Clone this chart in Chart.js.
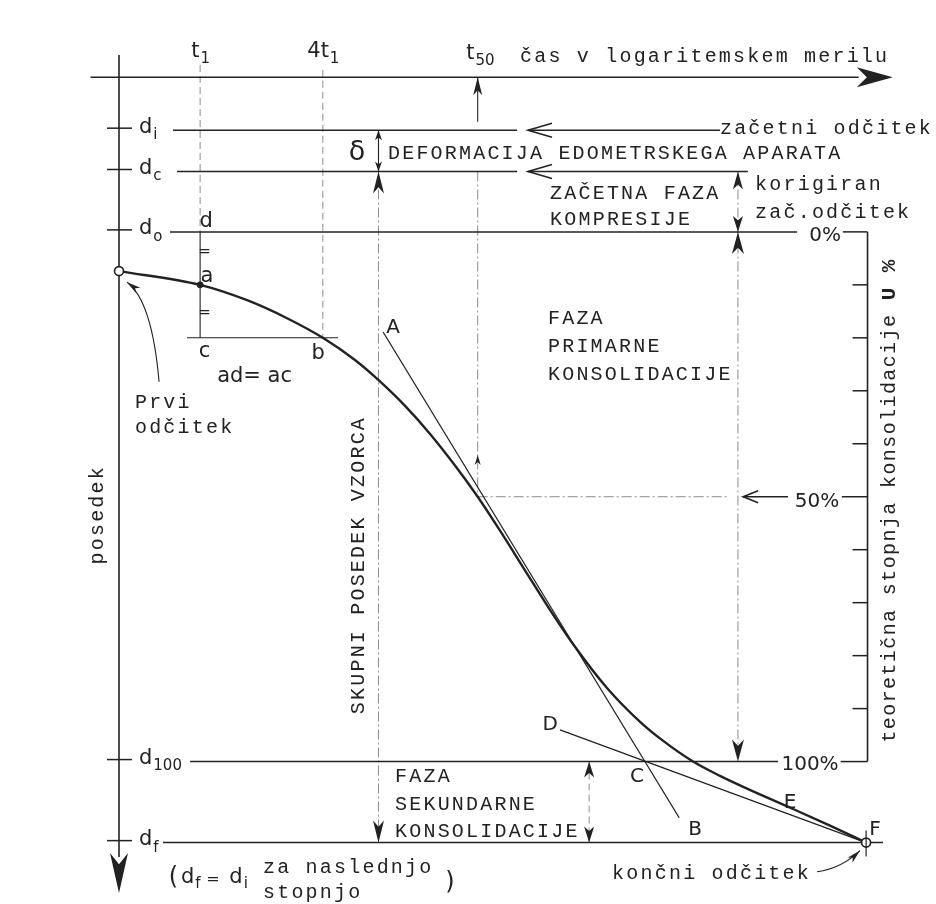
<!DOCTYPE html>
<html>
<head>
<meta charset="utf-8">
<script src="https://cdn.jsdelivr.net/npm/chart.js@4/dist/chart.umd.min.js"></script>
<style>
  html, body { margin: 0; padding: 0; background: #ffffff; }
  #wrap { width: 936px; height: 904px; position: relative; }
</style>
</head>
<body>
<div id="wrap"><canvas id="c"></canvas></div>
<script>
// ---- Time (log scale, multiples of t1) ----
const T0 = 0.4;          // first reading
const T1 = 1;
const T4 = 4;
const T50 = 23;
const TF = 1850;         // final reading
const T_SCALE = 1880;    // U % scale on the right
const T_TOTAL = 7.5;     // total settlement dimension line
const T_CORR = 435;      // corrected initial reading / primary consolidation dimension
const T_SEC = 81;        // secondary consolidation dimension

// ---- Settlement levels, in % of primary consolidation ----
const D_I = -19.2, D_C = -11.4, D_0 = 0, D_100 = 100, D_F = 115.3;
const TIME_AXIS_U = -29.2;
const levelValues = [D_I, D_C, D_0, D_100, D_F];
const levelSubs = ['i', 'c', 'o', '100', 'f'];

// ---- Measured settlement–log time curve ----
const curveTime = [0.4, 1, 1.7, 2.67, 4, 5.75, 7.46, 10.1, 13.4, 17.8, 23, 29.6, 40.6, 49.2,
                   67.5, 99.1, 144, 187, 262, 355, 482, 784, 1231, 1850];
const curveSettlement = [7.4, 10, 12.9, 16.3, 20, 24.2, 27.9, 32.8, 38.1, 44.1, 50, 56.4, 64.8, 69.9,
                         77.8, 86.1, 92.5, 96.1, 100.0, 102.7, 105.1, 108.7, 112.1, 115.3];

// ---- Construction lines ----
const tangentAB = [[7.9, 18.9], [224, 110.6]];
const tangentDF = [[58.3, 94.0], [1850, 115.3]];
const pointA = [1, 10];            // a at t1
const pointFirst = [0.4, 7.4];
const pointFinal = [1850, 115.3];
const uTicks = [10, 20, 30, 40, 60, 70, 80, 90];

// curved leader arrows (start, control, end)
const firstReadingArrow = [[0.629, 28.3], [0.581, 13.0], [0.438, 9.5]];
const finalReadingArrow = [[1063, 120.8], [1409, 120.1], [1728, 116.8]];

// ---- Texts ----
const captions = [
  ['čas v logaritemskem merilu', 37.1, -33.0],
  ['začetni odčitek', 355, -19.4],
  ['DEFORMACIJA EDOMETRSKEGA APARATA', 8.35, -14.7],
  ['ZAČETNA FAZA', 52.1, -7.3],
  ['KOMPRESIJE', 52.1, -2.3],
  ['korigiran', 528, -8.9],
  ['zač.odčitek', 528, -3.6],
  ['FAZA', 50.9, 16.4],
  ['PRIMARNE', 50.9, 21.7],
  ['KONSOLIDACIJE', 50.9, 27.0],
  ['Prvi', 0.479, 32.3],
  ['odčitek', 0.479, 37.0],
  ['FAZA', 9.04, 102.9],
  ['SEKUNDARNE', 9.04, 108.2],
  ['KONSOLIDACIJE', 9.04, 113.3],
  ['za naslednjo', 2.035, 120.1],
  ['stopnjo', 2.035, 124.8],
  ['končni odčitek', 105, 121.1]
];
const verticalCaptions = [
  ['posedek', 0.3155, 53.4],
  ['SKUPNI POSEDEK VZORCA', 6.02, 62.9]
];
const scaleTitle = ['teoretična stopnja konsolidacije ', 'U %', 2424, 50.7];

// [main, subscript, t, U]
const subLabels = [
  ['t', '1', 1, -34.0],
  ['4t', '1', 4, -34.0],
  ['t', '50', 23.6, -33.6],
  ['d', 'f', 0.894, 121.9],
  ['d', 'i', 1.535, 121.9]
];
// [text, t, U, size]
const letters = [
  ['A', 8.84, 18.1, 20], ['B', 268, 112.9, 20], ['C', 139, 102.9, 20],
  ['D', 52.1, 93.1, 20], ['E', 784, 107.8, 20], ['F', 2047, 112.9, 20],
  ['d', 1.07, -1.9, 21], ['=', 1.05, 3.8, 15], ['a', 1.08, 8.4, 21],
  ['=', 1.05, 15.3, 15], ['c', 1.05, 22.6, 21], ['b', 3.79, 22.9, 21],
  ['ad= ac', 1.85, 27.4, 21],
  ['0%', 1164, 0.8, 20], ['50%', 1063, 51.0, 20], ['100%', 982, 100.7, 20],
  ['δ', 5.89, -14.9, 27],
  ['(', 0.740, 121.9, 24], ['=', 1.157, 122.3, 16], [')', 16.8, 122.9, 24]
];

const INK = '#222222';
const FAINT = '#8c8c8c';

function seg(points, style) {
  return Object.assign({
    data: points.map(([x, y]) => ({ x, y })),
    showLine: true, pointRadius: 0, borderColor: INK, borderWidth: 1.5,
    fill: false, clip: false
  }, style || {});
}
const THIN = { borderWidth: 1.1 };
const DASH = { borderColor: FAINT, borderWidth: 1, borderDash: [7, 4] };
const DASHDOT = { borderColor: FAINT, borderWidth: 1, borderDash: [10, 3, 2, 3] };

const datasets = [
  // reading points
  { data: [{ x: pointFirst[0], y: pointFirst[1] }, { x: pointFinal[0], y: pointFinal[1] }],
    showLine: false, pointRadius: 4.5, pointBackgroundColor: '#ffffff', pointBorderColor: INK,
    pointBorderWidth: 1.6, clip: false },
  { data: [{ x: pointA[0], y: pointA[1] }], showLine: false, pointRadius: 3,
    pointBackgroundColor: INK, pointBorderColor: INK, clip: false },
  // consolidation curve
  { data: curveTime.map((t, i) => ({ x: t, y: curveSettlement[i] })), showLine: true,
    pointRadius: 0, borderColor: INK, borderWidth: 2.4, cubicInterpolationMode: 'monotone', clip: false },
  // tangents
  seg(tangentAB, { borderWidth: 1.3 }),
  seg(tangentDF, { borderWidth: 1.3 }),
  // axes
  seg([[T0, -33.4], [T0, 118]], { borderWidth: 1.6 }),
  seg([[0.29, TIME_AXIS_U], [1700, TIME_AXIS_U]], { borderWidth: 1.6 }),
  // level lines
  seg([[0.736, D_I], [35.9, D_I]]),
  seg([[40.6, D_I], [355, D_I]]),
  seg([[0.77, D_C], [35.9, D_C]]),
  seg([[40.6, D_C], [487, D_C]]),
  seg([[0.712, D_0], [849, D_0]]),
  seg([[1423, D_0], [T_SCALE, D_0]]),
  seg([[0.893, D_100], [684, D_100]]),
  seg([[1387, D_100], [T_SCALE, D_100]]),
  seg([[0.658, D_F], [2239, D_F]]),
  // 50 % level
  seg([[T50, 50], [390, 50]], DASHDOT),
  seg([[461, 50], [766, 50]]),
  seg([[1407, 50], [T_SCALE, 50]]),
  // U % scale
  seg([[T_SCALE, D_0], [T_SCALE, D_100]], { borderWidth: 1.6 }),
  // t1 / 4t1 construction
  seg([[T1, -31.5], [T1, D_0]], DASH),
  seg([[T1, D_0], [T1, 20]], THIN),
  seg([[0.862, 20], [4.75, 20]], THIN),
  seg([[T4, -30.6], [T4, 20]], DASH),
  // t50
  seg([[T50, -20.8], [T50, TIME_AXIS_U]], THIN),
  seg([[T50, D_C], [T50, 50]], DASHDOT),
  // dimension lines
  seg([[T_TOTAL, D_I], [T_TOTAL, D_C]], THIN),
  seg([[T_TOTAL, D_C], [T_TOTAL, D_F]], DASHDOT),
  seg([[T_CORR, D_C], [T_CORR, D_100]], DASHDOT),
  seg([[T_SEC, D_100], [T_SEC, D_F]], DASH)
];

function head(ctx, tx, ty, ux, uy, len, half) {
  const n = Math.hypot(ux, uy); ux /= n; uy /= n;
  const bx = tx - ux * len, by = ty - uy * len;
  const mx = tx - ux * len * 0.72, my = ty - uy * len * 0.72;
  const nx = -uy * half, ny = ux * half;
  ctx.beginPath();
  ctx.moveTo(tx, ty);
  ctx.lineTo(bx + nx, by + ny);
  ctx.lineTo(mx, my);
  ctx.lineTo(bx - nx, by - ny);
  ctx.closePath();
  ctx.fill();
}
function chevron(ctx, tx, ty, ux, uy, len, half) {
  const n = Math.hypot(ux, uy); ux /= n; uy /= n;
  const bx = tx - ux * len, by = ty - uy * len;
  const nx = -uy * half, ny = ux * half;
  ctx.beginPath();
  ctx.moveTo(bx + nx, by + ny);
  ctx.lineTo(tx, ty);
  ctx.lineTo(bx - nx, by - ny);
  ctx.stroke();
}

const MONO = '"Liberation Mono", "DejaVu Sans Mono", monospace';
const SANS = '"DejaVu Sans", "Liberation Sans", sans-serif';

const annotate = {
  id: 'annotate',
  afterDatasetsDraw(chart) {
    const ctx = chart.ctx;
    const X = v => chart.scales.x.getPixelForValue(v);
    const Y = v => chart.scales.y.getPixelForValue(v);
    ctx.save();
    ctx.fillStyle = INK;
    ctx.strokeStyle = INK;
    ctx.lineWidth = 1.5;

    // ticks on the settlement axis
    const ax = X(T0);
    levelValues.forEach(u => {
      ctx.beginPath(); ctx.moveTo(ax - 12, Y(u) - 2); ctx.lineTo(ax + 13, Y(u) - 2); ctx.stroke();
    });
    // ticks on the U % scale
    const sx = X(T_SCALE);
    uTicks.forEach(u => {
      ctx.beginPath(); ctx.moveTo(sx - 15, Y(u)); ctx.lineTo(sx, Y(u)); ctx.stroke();
    });
    // short mark through the final reading
    ctx.lineWidth = 1.2;
    ctx.beginPath(); ctx.moveTo(X(TF), Y(D_F) - 12); ctx.lineTo(X(TF), Y(D_F) + 14); ctx.stroke();

    // axis arrowheads
    head(ctx, X(2500), Y(TIME_AXIS_U), 1, 0, 36, 10);
    head(ctx, ax, Y(124.8), 0, 1, 40, 9);
    // t50 marker
    head(ctx, X(T50), Y(TIME_AXIS_U), 0, -1, 18, 4.5);
    head(ctx, X(T50), Y(42.1), 0, -1, 10, 3);
    // δ
    head(ctx, X(T_TOTAL), Y(D_I), 0, -1, 10, 3.5);
    head(ctx, X(T_TOTAL), Y(D_C), 0, 1, 10, 3.5);
    // total settlement
    head(ctx, X(T_TOTAL), Y(D_C), 0, -1, 22, 5.5);
    head(ctx, X(T_TOTAL), Y(D_F), 0, 1, 22, 5.5);
    // corrected initial reading
    head(ctx, X(T_CORR), Y(D_C), 0, -1, 18, 5);
    head(ctx, X(T_CORR), Y(D_0), 0, 1, 16, 5);
    // primary consolidation span
    head(ctx, X(T_CORR), Y(D_0), 0, -1, 22, 6);
    head(ctx, X(T_CORR), Y(D_100), 0, 1, 22, 6);
    // secondary consolidation span
    head(ctx, X(T_SEC), Y(D_100), 0, -1, 16, 5);
    head(ctx, X(T_SEC), Y(D_F), 0, 1, 16, 5);
    // open arrows pointing at the level lines
    ctx.lineWidth = 1.6;
    chevron(ctx, X(40.6), Y(D_I), -1, 0, 24, 7);
    chevron(ctx, X(40.6), Y(D_C), -1, 0, 24, 7);
    chevron(ctx, X(461), Y(50), -1, 0, 15, 6);

    // curved leaders
    ctx.lineWidth = 1.1;
    [firstReadingArrow, finalReadingArrow].forEach(([s, c, e]) => {
      const p0 = [X(s[0]), Y(s[1])], p1 = [X(c[0]), Y(c[1])], p2 = [X(e[0]), Y(e[1])];
      ctx.beginPath(); ctx.moveTo(p0[0], p0[1]);
      ctx.quadraticCurveTo(p1[0], p1[1], p2[0], p2[1]); ctx.stroke();
      head(ctx, p2[0], p2[1], p2[0] - p1[0], p2[1] - p1[1], 14, 3.5);
    });

    // typewriter captions
    ctx.font = '20px ' + MONO;
    ctx.letterSpacing = '2.2px';
    ctx.textBaseline = 'middle';
    ctx.textAlign = 'left';
    captions.forEach(([s, t, u]) => ctx.fillText(s, X(t), Y(u)));
    ctx.textAlign = 'center';
    verticalCaptions.forEach(([s, t, u]) => {
      ctx.save(); ctx.translate(X(t), Y(u)); ctx.rotate(-Math.PI / 2);
      ctx.fillText(s, 0, 0); ctx.restore();
    });
    // U % scale title
    {
      const [a, b, t, u] = scaleTitle;
      ctx.save(); ctx.translate(X(t), Y(u)); ctx.rotate(-Math.PI / 2);
      ctx.letterSpacing = '1.4px';
      ctx.font = '20px ' + MONO;
      const wa = ctx.measureText(a).width;
      ctx.font = 'bold 21px ' + MONO;
      const wb = ctx.measureText(b).width;
      const x0 = -(wa + wb) / 2;
      ctx.textAlign = 'left';
      ctx.font = '20px ' + MONO;
      ctx.fillText(a, x0, 0);
      ctx.font = 'bold 21px ' + MONO;
      ctx.fillText(b, x0 + wa, 0);
      ctx.restore();
    }
    ctx.letterSpacing = '0px';

    // level names d_i ... d_f
    ctx.textAlign = 'left';
    levelValues.forEach((u, i) => {
      const x = ax + 20, y = Y(u) - 3;
      ctx.font = '21px ' + SANS;
      ctx.fillText('d', x, y);
      const w = ctx.measureText('d').width;
      ctx.font = '15px ' + SANS;
      ctx.fillText(levelSubs[i], x + w + 1, y + 8);
    });
    // subscripted labels
    subLabels.forEach(([m, s, t, u]) => {
      ctx.font = '21px ' + SANS;
      const wm = ctx.measureText(m).width;
      ctx.font = '15px ' + SANS;
      const ws = ctx.measureText(s).width;
      const x0 = X(t) - (wm + ws) / 2, y = Y(u);
      ctx.font = '21px ' + SANS;
      ctx.fillText(m, x0, y);
      ctx.font = '15px ' + SANS;
      ctx.fillText(s, x0 + wm + 1, y + 7);
    });
    // letters and percentages
    ctx.textAlign = 'center';
    letters.forEach(([s, t, u, size]) => {
      ctx.font = size + 'px ' + SANS;
      ctx.fillText(s, X(t), Y(u));
    });
    ctx.restore();
  }
};

new Chart(document.getElementById('c'), {
  type: 'scatter',
  data: { datasets },
  options: {
    responsive: true,
    maintainAspectRatio: false,
    animation: false,
    devicePixelRatio: 1,
    events: [],
    layout: { padding: { left: 119, right: 63, top: 20, bottom: 10 } },
    scales: {
      x: { type: 'logarithmic', min: 0.4, max: 2000, display: false },
      y: { type: 'linear', min: -40, max: 125, reverse: true, display: false }
    },
    plugins: { legend: { display: false }, tooltip: { enabled: false } }
  },
  plugins: [annotate]
});
</script>
</body>
</html>
